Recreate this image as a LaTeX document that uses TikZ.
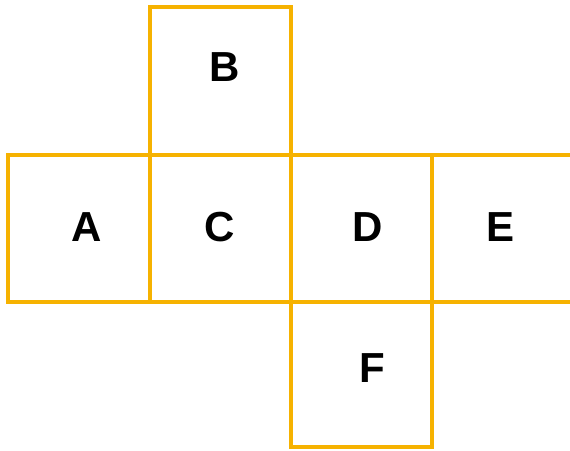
\documentclass[tikz,border=0pt]{standalone}
\usepackage{fontspec}
\setmainfont{Liberation Sans}
\definecolor{netorange}{HTML}{F6B200}
\begin{document}
\begin{tikzpicture}[x=1pt,y=-1pt,
  edge/.style={draw=netorange,line width=3.2pt},
  letter/.style={font=\bfseries\fontsize{42}{42}\selectfont,inner sep=0pt}]
\useasboundingbox (0,0) rectangle (570,450);
\draw[edge] (150,7) rectangle (291,155);
\draw[edge] (8,155) rectangle (150,302);
\draw[edge] (150,155) rectangle (291,302);
\draw[edge] (291,155) rectangle (432,302);
\draw[edge] (572,155) -- (432,155) -- (432,302) -- (572,302);
\draw[edge] (291,302) rectangle (432,447);
\node[letter] (B) at (225,67) {B};
\node[letter] (A) at (87,227) {A};
\node[letter] (C) at (220,227) {C};
\node[letter] (D) at (368,227) {D};
\node[letter] (E) at (500,227) {E};
\node[letter] (F) at (372,368) {F};
\end{tikzpicture}
\end{document}
